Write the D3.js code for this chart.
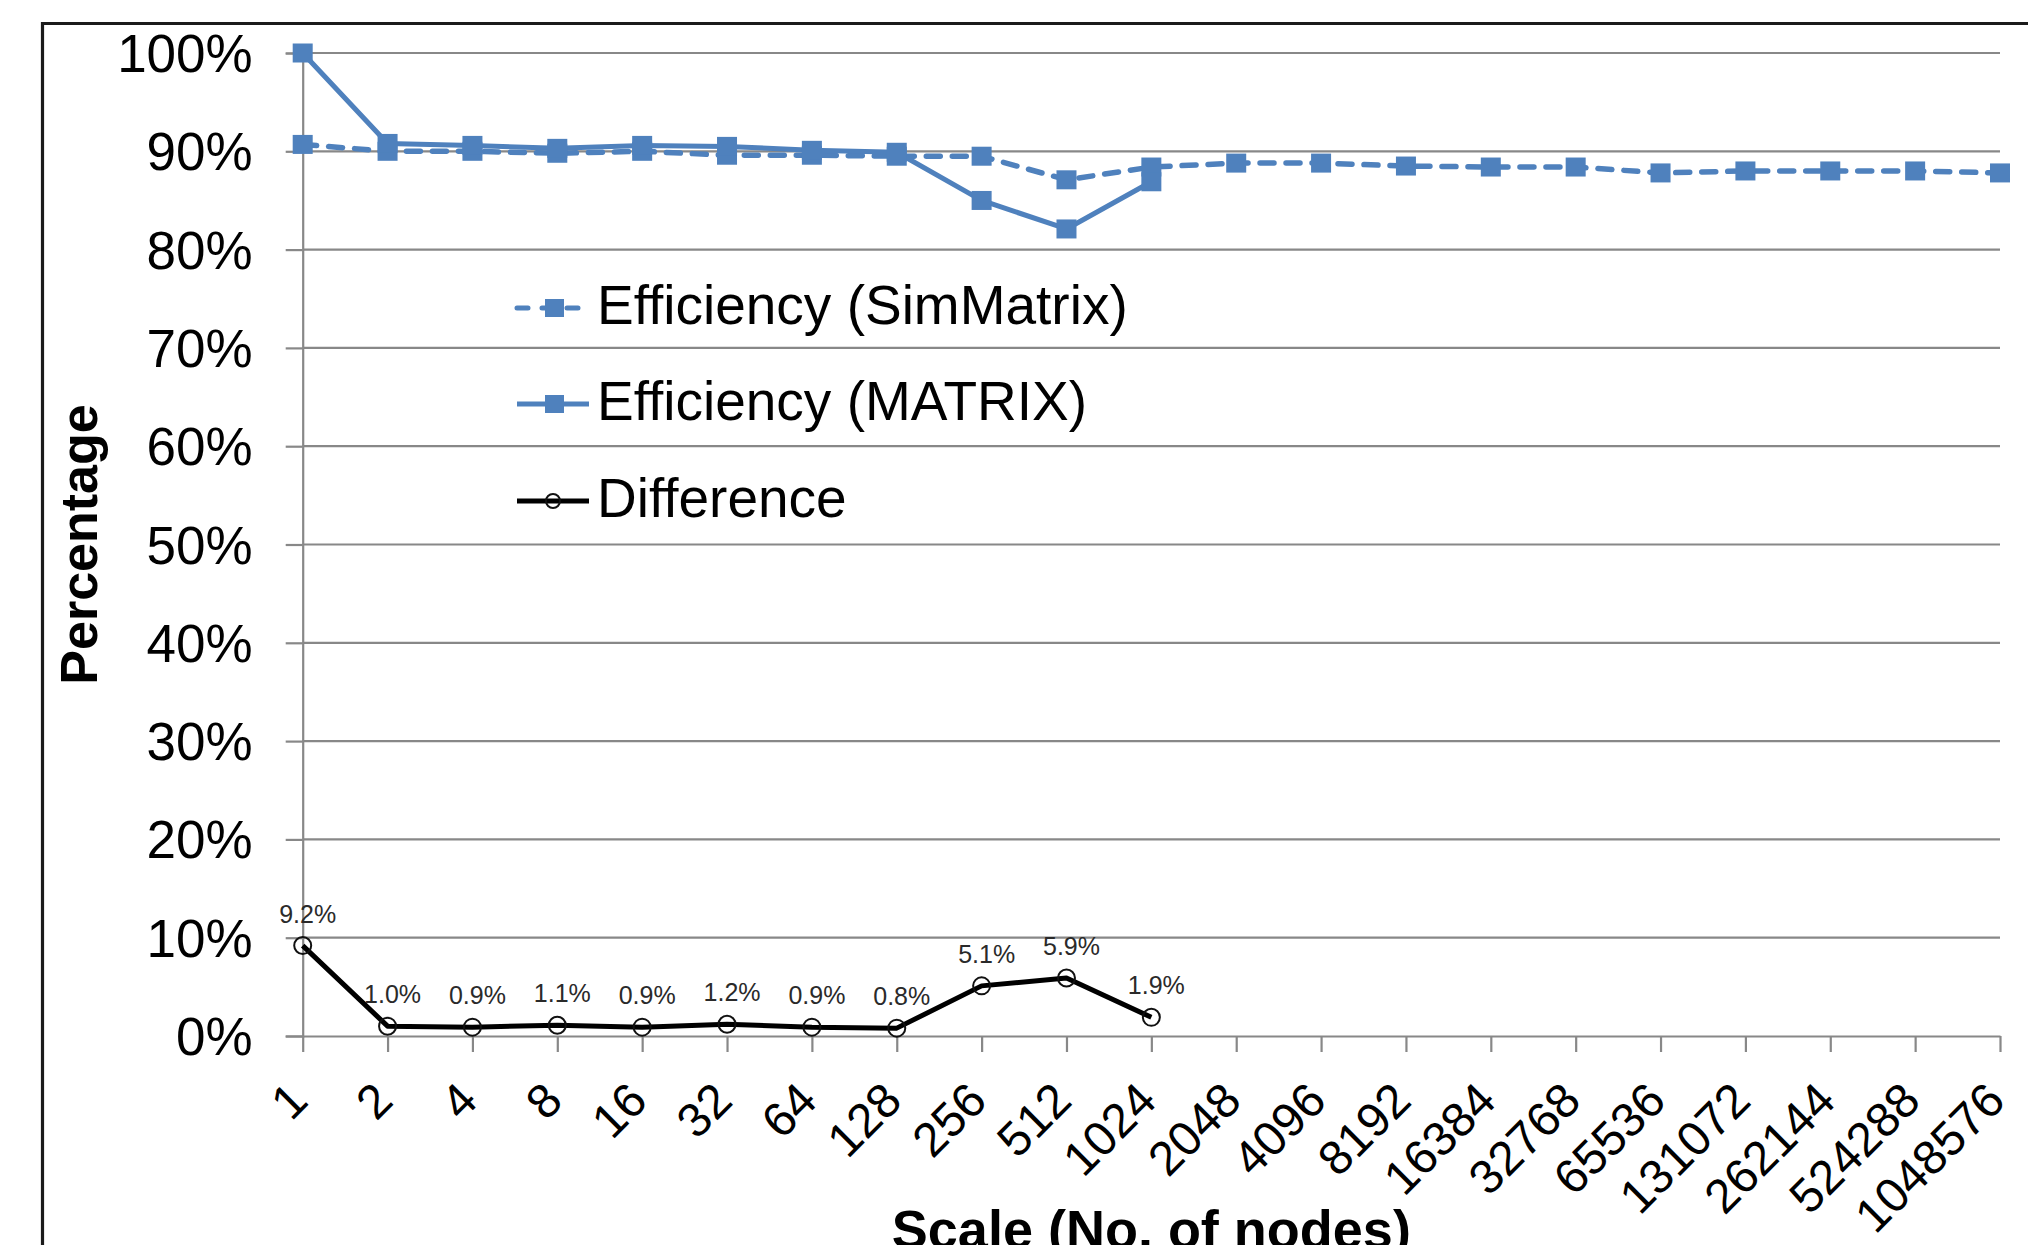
<!DOCTYPE html>
<html>
<head>
<meta charset="utf-8">
<script src="https://cdn.jsdelivr.net/npm/d3@7"></script>
<style>
  html, body { margin: 0; padding: 0; background: #fff; }
  svg { display: block; }
  text { font-family: "Liberation Sans", Arial, sans-serif; }
</style>
</head>
<body>
<svg id="chart" width="2028" height="1245"></svg>
<script>
// Scale categories (number of nodes)
const categories = ["1","2","4","8","16","32","64","128","256","512","1024","2048","4096","8192",
  "16384","32768","65536","131072","262144","524288","1048576"];

// Efficiency of the simulator, in percent
const simMatrix = [90.7, 90.0, 90.0, 89.8, 90.0, 89.6, 89.6, 89.5, 89.5, 87.1, 88.4,
  88.8, 88.8, 88.5, 88.4, 88.4, 87.8, 88.0, 88.0, 88.0, 87.8];

// Efficiency of the real system, in percent (measured up to 1024 nodes)
const matrix = [100, 90.8, 90.6, 90.3, 90.6, 90.5, 90.1, 89.9, 85.0, 82.1, 86.9,
  null, null, null, null, null, null, null, null, null, null];

// Relative difference between the two, in percent
const difference = [9.2, 1.0, 0.9, 1.1, 0.9, 1.2, 0.9, 0.8, 5.1, 5.9, 1.9,
  null, null, null, null, null, null, null, null, null, null];

const yTicks = [0, 10, 20, 30, 40, 50, 60, 70, 80, 90, 100];

const seriesNames = ["Efficiency (SimMatrix)", "Efficiency (MATRIX)", "Difference"];

const BLUE = "#4F81BD";
const GRID = "#888888";

const svg = d3.select("#chart");
svg.append("rect").attr("width", 2028).attr("height", 1245).attr("fill", "#fff");

const x = d3.scalePoint().domain(categories).range([302.7, 2000]);
const y = d3.scaleLinear().domain([0, 100]).range([1036, 53]);

// outer frame (left and top edges visible)
svg.append("path")
  .attr("d", "M42.5,1245V23.5H2028")
  .attr("fill", "none").attr("stroke", "#1b1b1b").attr("stroke-width", 3.2);

// horizontal gridlines
svg.append("g").selectAll("line").data(yTicks.filter(d => d > 0)).join("line")
  .attr("x1", x(categories[0])).attr("x2", x(categories[categories.length - 1]))
  .attr("y1", d => y(d)).attr("y2", d => y(d))
  .attr("stroke", GRID).attr("stroke-width", 2.2);

// y axis
const yAxis = svg.append("g").attr("transform", `translate(${x(categories[0])},0)`)
  .call(d3.axisLeft(y).tickValues(yTicks).tickFormat(d => d + "%").tickSize(17).tickPadding(33));
yAxis.select(".domain").attr("stroke", GRID).attr("stroke-width", 2.2);
yAxis.selectAll(".tick line").attr("stroke", GRID).attr("stroke-width", 2.2);
yAxis.selectAll(".tick text").attr("font-size", 53).attr("fill", "#000")
  .attr("font-family", "'Liberation Sans', Arial, sans-serif").attr("dy", "0.35em");

// x axis
const xAxis = svg.append("g").attr("transform", `translate(0,${y(0)})`)
  .call(d3.axisBottom(x).tickSize(16).tickSizeOuter(0));
xAxis.select(".domain").attr("stroke", GRID).attr("stroke-width", 2.2);
xAxis.selectAll(".tick line").attr("stroke", GRID).attr("stroke-width", 2.2);
xAxis.selectAll(".tick text")
  .attr("font-size", 48).attr("fill", "#000")
  .attr("font-family", "'Liberation Sans', Arial, sans-serif")
  .attr("text-anchor", "end").attr("y", 0).attr("dy", 0)
  .attr("transform", "translate(7,67) rotate(-45)");

// axis titles
svg.append("text")
  .attr("transform", `translate(97,${(y(0) + y(100)) / 2}) rotate(-90)`)
  .attr("text-anchor", "middle").attr("font-size", 52).attr("font-weight", "bold")
  .text("Percentage");
svg.append("text")
  .attr("x", (x(categories[0]) + x(categories[categories.length - 1])) / 2).attr("y", 1248)
  .attr("text-anchor", "middle").attr("font-size", 54).attr("font-weight", "bold")
  .text("Scale (No. of nodes)");

const line = d3.line()
  .defined(d => d.v != null)
  .x(d => x(d.c)).y(d => y(d.v));
const pts = arr => categories.map((c, i) => ({ c, v: arr[i] }));

// SimMatrix efficiency (dashed)
svg.append("path").datum(pts(simMatrix)).attr("d", line)
  .attr("fill", "none").attr("stroke", BLUE).attr("stroke-width", 5.5)
  .attr("stroke-dasharray", "14,12").attr("stroke-linecap", "round");
svg.append("g").selectAll("rect").data(pts(simMatrix).filter(d => d.v != null)).join("rect")
  .attr("x", d => x(d.c) - 10).attr("y", d => y(d.v) - 9.5)
  .attr("width", 20).attr("height", 19).attr("fill", BLUE);

// MATRIX efficiency (solid)
svg.append("path").datum(pts(matrix)).attr("d", line)
  .attr("fill", "none").attr("stroke", BLUE).attr("stroke-width", 5)
  .attr("stroke-linejoin", "round");
svg.append("g").selectAll("rect").data(pts(matrix).filter(d => d.v != null)).join("rect")
  .attr("x", d => x(d.c) - 10).attr("y", d => y(d.v) - 9.5)
  .attr("width", 20).attr("height", 19).attr("fill", BLUE);

// Difference (black, open circles, labelled)
const diffPts = pts(difference).filter(d => d.v != null);
svg.append("path").datum(pts(difference)).attr("d", line)
  .attr("fill", "none").attr("stroke", "#000").attr("stroke-width", 5)
  .attr("stroke-linejoin", "round");
svg.append("g").selectAll("circle").data(diffPts).join("circle")
  .attr("cx", d => x(d.c)).attr("cy", d => y(d.v)).attr("r", 8.5)
  .attr("fill", "none").attr("stroke", "#111").attr("stroke-width", 2);
svg.append("g").selectAll("text").data(diffPts).join("text")
  .attr("x", d => x(d.c) + 5).attr("y", d => y(d.v) - 23)
  .attr("text-anchor", "middle").attr("font-size", 25).attr("fill", "#2a2a2a")
  .text(d => d.v.toFixed(1) + "%");

// legend
const legendRows = [
  { name: seriesNames[0], color: BLUE, dash: "11,14", marker: "square", y: 308 },
  { name: seriesNames[1], color: BLUE, dash: null, marker: "square", y: 404 },
  { name: seriesNames[2], color: "#000", dash: null, marker: "circle", y: 501 }
];
const lg = svg.append("g").selectAll("g").data(legendRows).join("g")
  .attr("transform", d => `translate(0,${d.y})`);
lg.append("line").attr("x1", 517).attr("x2", 589)
  .attr("stroke", d => d.color).attr("stroke-width", 5)
  .attr("stroke-dasharray", d => d.dash)
  .attr("stroke-linecap", d => d.dash ? "round" : "butt");
lg.filter(d => d.marker === "square").append("rect")
  .attr("x", 545).attr("y", -9).attr("width", 19).attr("height", 18).attr("fill", d => d.color);
lg.filter(d => d.marker === "circle").append("circle")
  .attr("cx", 553).attr("cy", 0).attr("r", 7)
  .attr("fill", "none").attr("stroke", "#111").attr("stroke-width", 2);
lg.append("text").attr("x", 597).attr("y", 16)
  .attr("font-size", 55).attr("fill", "#000").text(d => d.name);
</script>
</body>
</html>
